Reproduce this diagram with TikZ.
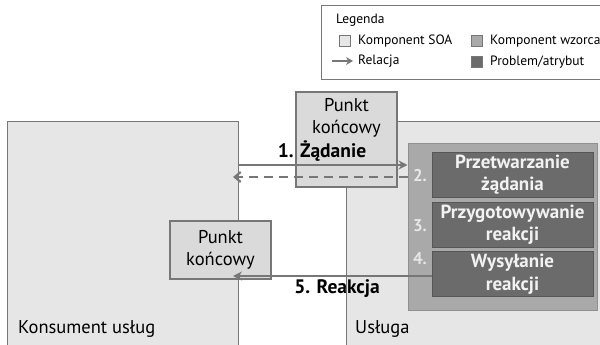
\documentclass[tikz,border=0pt]{standalone}
\usepackage{fontspec}
\setmainfont{PT Sans}
\usetikzlibrary{arrows.meta}
\definecolor{edge}{HTML}{777777}
\definecolor{soa}{HTML}{E6E6E6}
\definecolor{pat}{HTML}{A9A9A9}
\definecolor{prob}{HTML}{6B6B6B}
\begin{document}
\begin{tikzpicture}[x=1pt,y=-1pt,
   font=\fontsize{18.5}{22}\selectfont,
   area/.style={draw=edge,fill=soa,line width=1.1pt,inner sep=0pt},
   endpt/.style={draw=edge,fill=soa!95!black,line width=1.1pt,minimum width=101pt,align=center,inner sep=0pt},
   pattern/.style={draw=pat!85!black,fill=pat,line width=1pt,minimum width=189pt,minimum height=167pt},
   problem/.style={draw=prob!80!black,fill=prob,line width=1pt,minimum width=161pt,minimum height=45pt,
      text=white!95!black,font=\fontsize{19}{22.5}\selectfont\bfseries,align=center,inner sep=0pt},
   num/.style={text=soa,font=\fontsize{17}{19}\selectfont\bfseries},
   label/.style={font=\fontsize{19.5}{22}\selectfont\bfseries},
   rel/.style={-{Stealth[length=9pt,width=9pt]},draw=edge,line width=2.4pt},
   back/.style={-{Straight Barb[length=6pt,width=10pt]},draw=edge,line width=2.2pt,dash pattern=on 9pt off 6pt},
   key/.style={draw=edge,line width=0.8pt,minimum size=11pt,inner sep=0pt},
   keytext/.style={anchor=west,font=\fontsize{13.5}{15}\selectfont,inner sep=0pt},
   every node/.style={inner sep=0pt}]
\clip (0,0) rectangle (600,345);
\fill[white] (0,0) rectangle (600,345);
% legend
\node[draw=edge,line width=0.8pt,minimum width=300pt,minimum height=74pt,anchor=north west] (legend) at (321,5) {};
\node[keytext] (legendtitle) at (336,20) {Legenda};
\node[key,fill=soa] (keysoa) at (345,41) {};
\node[keytext] (keysoatext) at (358,41) {Komponent SOA};
\node[key,fill=pat] (keypat) at (477,41) {};
\node[keytext] (keypattext) at (490,41) {Komponent wzorca};
\coordinate (keyrelA) at (332,61);
\coordinate (keyrelB) at (353,61);
\draw[-{Stealth[length=7pt,width=8pt]},draw=edge,line width=1.8pt] (keyrelA) -- (keyrelB);
\node[keytext] (keyreltext) at (358,61) {Relacja};
\node[key,fill=prob] (keyprob) at (477,62) {};
\node[keytext] (keyprobtext) at (490,62) {Problem/atrybut};
% consumer and service
\node[area,minimum width=231pt,minimum height=250pt,anchor=north west] (consumer) at (7,121) {};
\node[area,minimum width=280pt,minimum height=250pt,anchor=north west] (service) at (346,121) {};
\node[anchor=west] (consumertext) at (18,329) {Konsument usług};
\node[anchor=west] (servicetext) at (355,329) {Usługa};
% pattern
\node[pattern] (pattern) at (502.5,226.5) {};
\node[problem] (handle) at (512.5,174.5) {Przetwarzanie\\żądania};
\node[problem] (prepare) at (512.5,224.5) {Przygotowywanie\\reakcji};
\node[problem] (send) at (512.5,274) {Wysyłanie\\reakcji};
\node[num] (num2) at (420,176) {2.};
\node[num] (num3) at (420,226) {3.};
\node[num] (num4) at (420,259) {4.};
% endpoints
\node[endpt,minimum height=95pt] (svcend) at (346.5,139.5) {};
\node[align=center] (svcendtext) at (346.5,118) {Punkt\\końcowy};
\node[endpt,minimum height=58pt] (conend) at (220.5,250) {Punkt\\końcowy};
% relations
\coordinate (req) at (0,165);
\coordinate (ack) at (0,177);
\coordinate (resp) at (0,276);
\coordinate (tipA) at (233,0);
\draw[rel] (consumer.east |- req) -- (pattern.west |- req);
\draw[back] (pattern.west |- ack) -- (tipA |- ack);
\draw[rel] (send.west |- resp) -- (tipA |- resp);
\node[label] (reqtext) at (322,151) {1. Żądanie};
\node[label] (resptext) at (337,289) {5. Reakcja};
\end{tikzpicture}
\end{document}
